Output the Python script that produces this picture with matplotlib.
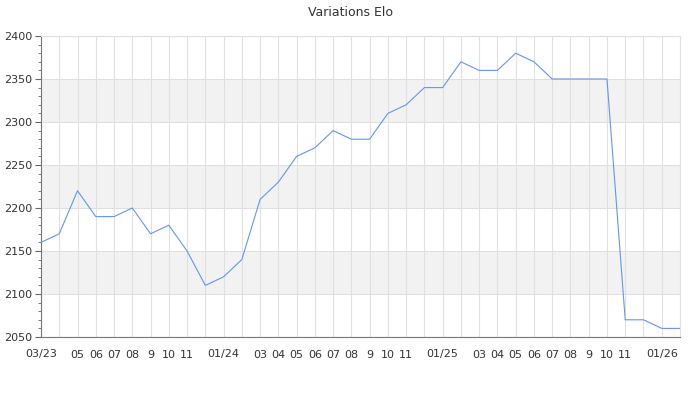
import matplotlib.pyplot as plt
import numpy as np

# monthly elo, 03/23 -> 02/26
labels = ['03/23', '', '05', '06', '07', '08', '9', '10', '11', '',
          '01/24', '', '03', '04', '05', '06', '07', '08', '9', '10', '11', '',
          '01/25', '', '03', '04', '05', '06', '07', '08', '9', '10', '11', '',
          '01/26', '']
elo = [2160, 2170, 2220, 2190, 2190, 2200, 2170, 2180, 2150, 2110,
       2120, 2140, 2210, 2230, 2260, 2270, 2290, 2280, 2280, 2310, 2320, 2340,
       2340, 2370, 2360, 2360, 2380, 2370, 2350, 2350, 2350, 2350, 2070, 2070,
       2060, 2060]

x = np.arange(len(elo))

fig = plt.figure(figsize=(7, 4), dpi=100)
ax = fig.add_axes([41/700, 1 - 337/400, 639/700, 301/400])

# alternating bands
for lo in [2100, 2200, 2300]:
    ax.axhspan(lo, lo + 50, color='#f2f2f2', zorder=0, lw=0)

ax.plot(x, elo, color='#6495ed', lw=0.8, zorder=3)

ax.set_xlim(0, len(elo) - 1)
ax.set_ylim(2050, 2400)
ax.set_xticks(x)
ax.set_xticklabels(labels, fontsize=8, color='#333333')
ax.set_yticks(np.arange(2050, 2401, 50))
ax.set_yticks(np.arange(2050, 2401, 10), minor=True)
ax.tick_params(axis='y', labelsize=8, labelcolor='#333333', color='#666666',
               length=4, width=0.8, pad=2)
ax.tick_params(axis='y', which='minor', color='#666666', length=2, width=0.6)
ax.tick_params(axis='x', length=0, pad=9)

ax.grid(True, color='#e0e0e0', lw=0.8, zorder=1)
ax.set_axisbelow(True)
for s in ['top', 'right']:
    ax.spines[s].set_color('#e0e0e0')
for s in ['left', 'bottom']:
    ax.spines[s].set_color('#777777')

fig.text(0.5, 1 - 12/400, 'Variations Elo', ha='center', va='center',
         fontsize=9, color='#333333')

fig.savefig('out.png', dpi=100)
